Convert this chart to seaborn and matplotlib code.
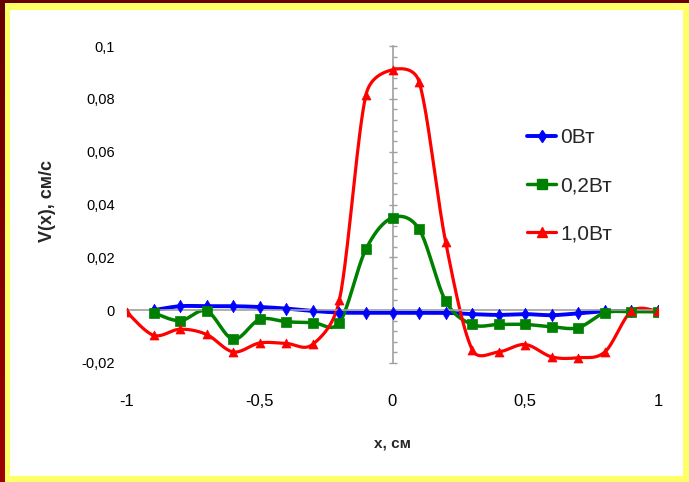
import numpy as np
import pandas as pd
import matplotlib
matplotlib.use("Agg")
import matplotlib.pyplot as plt
import seaborn as sns
from matplotlib import font_manager
from matplotlib.lines import Line2D
from matplotlib.patches import Rectangle
from matplotlib.ticker import FixedLocator, FixedFormatter, MultipleLocator

# ---- data -----------------------------------------------------------------
x_short = [-0.9, -0.8, -0.7, -0.6, -0.5, -0.4, -0.3, -0.2, -0.1, 0.0,
           0.1, 0.2, 0.3, 0.4, 0.5, 0.6, 0.7, 0.8, 0.9, 1.0]
x_long = [-1.0] + x_short

v_0w = [0.0000, 0.0015, 0.0015, 0.0015, 0.0012, 0.0006, -0.0003, -0.0009,
        -0.0010, -0.0010, -0.0010, -0.0010, -0.0015, -0.0018, -0.0015,
        -0.0019, -0.0012, -0.0004, -0.0003, -0.0003]
v_02w = [-0.0010, -0.0040, -0.0003, -0.0110, -0.0035, -0.0044, -0.0047,
         -0.0047, 0.0231, 0.0350, 0.0307, 0.0035, -0.0054, -0.0054, -0.0054,
         -0.0063, -0.0066, -0.0010, -0.0006, -0.0006]
v_10w = [-0.0008, -0.0095, -0.0072, -0.0092, -0.0158, -0.0124, -0.0126,
         -0.0129, 0.0038, 0.0815, 0.0910, 0.0865, 0.0259, -0.0149, -0.0158,
         -0.0130, -0.0177, -0.0180, -0.0158, -0.0004, -0.0004]

series_names = ["0Вт", "0,2Вт", "1,0Вт"]
series_x = [x_short, x_short, x_long]
series_v = [v_0w, v_02w, v_10w]

y_ticks = [-0.02, 0.0, 0.02, 0.04, 0.06, 0.08, 0.1]
y_tick_labels = ["-0,02", "0", "0,02", "0,04", "0,06", "0,08", "0,1"]
x_ticks = [-1.0, -0.5, 0.0, 0.5, 1.0]
x_tick_labels = ["-1", "-0,5", "0", "0,5", "1"]

x_title = "x, см"
y_title = "V(x), см/с"

# ---- style ----------------------------------------------------------------
colors = {"0Вт": "#0000ff", "0,2Вт": "#008000", "1,0Вт": "#ff0000"}
markers = {"0Вт": "d", "0,2Вт": "s", "1,0Вт": "^"}
marker_sizes = {"0Вт": 40, "0,2Вт": 52, "1,0Вт": 42}
line_widths = {"0Вт": 2.8, "0,2Вт": 2.5, "1,0Вт": 2.3}
AXIS_GRAY = "#a0a0a0"

sns.set_theme(style="white")
available = {f.name for f in font_manager.fontManager.ttflist}
base_font = "Liberation Sans Narrow" if "Liberation Sans Narrow" in available else "Liberation Sans"
plt.rcParams["font.family"] = [base_font, "DejaVu Sans"]

W, H = 689, 482
# plot area in pixels: x -1..1 -> 127..658, y 0.1..-0.02 -> 46..363
PX_PER_X = 531 / 2.0
PX_PER_Y = 317 / 0.12


def smooth(xs, ys, n=30):
    """Smoothed polyline through the points: Catmull-Rom Bezier handles,
    each clamped to half of its segment's on-screen length."""
    p = np.column_stack([xs, ys]).astype(float)
    scale = np.array([PX_PER_X, PX_PER_Y])
    ext = np.vstack([p[0], p, p[-1]])
    out = []
    t = np.linspace(0, 1, n, endpoint=False)[:, None]
    for i in range(1, len(ext) - 2):
        p0, p1, p2, p3 = ext[i - 1], ext[i], ext[i + 1], ext[i + 2]
        d12 = np.linalg.norm((p2 - p1) * scale)
        d02 = np.linalg.norm((p2 - p0) * scale)
        d13 = np.linalg.norm((p3 - p1) * scale)
        f1 = min(1.0, 3.0 * d12 / d02) if d02 > 0 else 1.0
        f2 = min(1.0, 3.0 * d12 / d13) if d13 > 0 else 1.0
        b1 = p1 + (p2 - p0) * f1 / 6.0
        b2 = p2 - (p3 - p1) * f2 / 6.0
        seg = ((1 - t) ** 3) * p1 + 3 * ((1 - t) ** 2) * t * b1 \
            + 3 * (1 - t) * t ** 2 * b2 + t ** 3 * p2
        out.append(seg)
    out.append(p[-1][None, :])
    out = np.vstack(out)
    return out[:, 0], out[:, 1]


fig = plt.figure(figsize=(W / 100, H / 100), dpi=100)

# ---- slide frame ----------------------------------------------------------
bg = fig.add_axes([0, 0, 1, 1], zorder=-5)
grad = np.linspace(0, 1, 256)[:, None]
top_c = np.array([0.40, 0.0, 0.0])
bot_c = np.array([0.62, 0.0, 0.0])
img = top_c[None, None, :] * (1 - grad[:, :, None]) + bot_c[None, None, :] * grad[:, :, None]
bg.imshow(img, extent=[0, W, H, 0], aspect="auto")
bg.add_patch(Rectangle((5, 3), W - 5, H - 3, facecolor="#ffff66", edgecolor="none"))
bg.add_patch(Rectangle((10, 10), 673, 466, facecolor="white", edgecolor="none"))
bg.set_xlim(0, W)
bg.set_ylim(H, 0)
bg.axis("off")

# ---- plot area ------------------------------------------------------------
ax = fig.add_axes([127 / W, 1 - 363 / H, 531 / W, 317 / H])
ax.set_facecolor("none")

for name, xs, vs in zip(series_names, series_x, series_v):
    sx, sy = smooth(xs, vs)
    curve = pd.DataFrame({"x": sx, "v": sy, "series": name})
    pts = pd.DataFrame({"x": xs, "v": vs, "series": name})
    sns.lineplot(data=curve, x="x", y="v", color=colors[name], sort=False,
                 estimator=None, linewidth=line_widths[name], legend=False,
                 ax=ax)
    sns.scatterplot(data=pts, x="x", y="v", color=colors[name],
                    marker=markers[name], s=marker_sizes[name],
                    edgecolor=colors[name], linewidth=0.5, legend=False,
                    ax=ax, zorder=3)

ax.set_xlim(-1, 1)
ax.set_ylim(-0.02, 0.1)
ax.set_xlabel("")
ax.set_ylabel("")

for side in ("top", "right"):
    ax.spines[side].set_visible(False)
ax.spines["left"].set_position(("data", 0))
ax.spines["bottom"].set_position(("data", 0))
for side in ("left", "bottom"):
    ax.spines[side].set_color(AXIS_GRAY)
    ax.spines[side].set_linewidth(1.2)

ax.yaxis.set_major_locator(FixedLocator(y_ticks))
ax.yaxis.set_major_formatter(FixedFormatter(y_tick_labels))
ax.yaxis.set_minor_locator(MultipleLocator(0.004))
ax.xaxis.set_major_locator(FixedLocator(x_ticks))
ax.xaxis.set_major_formatter(FixedFormatter(x_tick_labels))

ax.tick_params(axis="y", which="major", direction="inout", length=6,
               width=1, color=AXIS_GRAY, pad=197, labelsize=10.5,
               labelcolor="black", left=True)
ax.tick_params(axis="y", which="minor", direction="in", length=3,
               width=1, color=AXIS_GRAY, left=True)
ax.tick_params(axis="x", which="major", direction="out", length=4,
               width=1, color=AXIS_GRAY, pad=56, labelsize=12,
               labelcolor="black", bottom=True)

fig.text(48 / W, 1 - 201 / H, y_title, rotation=90, ha="center",
         va="center", fontsize=13, fontweight="bold")
fig.text(393 / W, 1 - 443 / H, x_title, ha="center", va="center",
         fontsize=11, fontweight="bold")

handles = [Line2D([], [], color=colors[n], linewidth=line_widths[n],
                  marker=markers[n], markersize=6.5) for n in series_names]
ax.legend(handles, series_names, loc="center left",
          bbox_to_anchor=(527 / W, 1 - 186 / H),
          bbox_transform=fig.transFigure, frameon=False, fontsize=15,
          handlelength=1.4, handletextpad=0.2, labelspacing=1.4,
          borderpad=0, borderaxespad=0)

fig.savefig("out.png", dpi=100)
